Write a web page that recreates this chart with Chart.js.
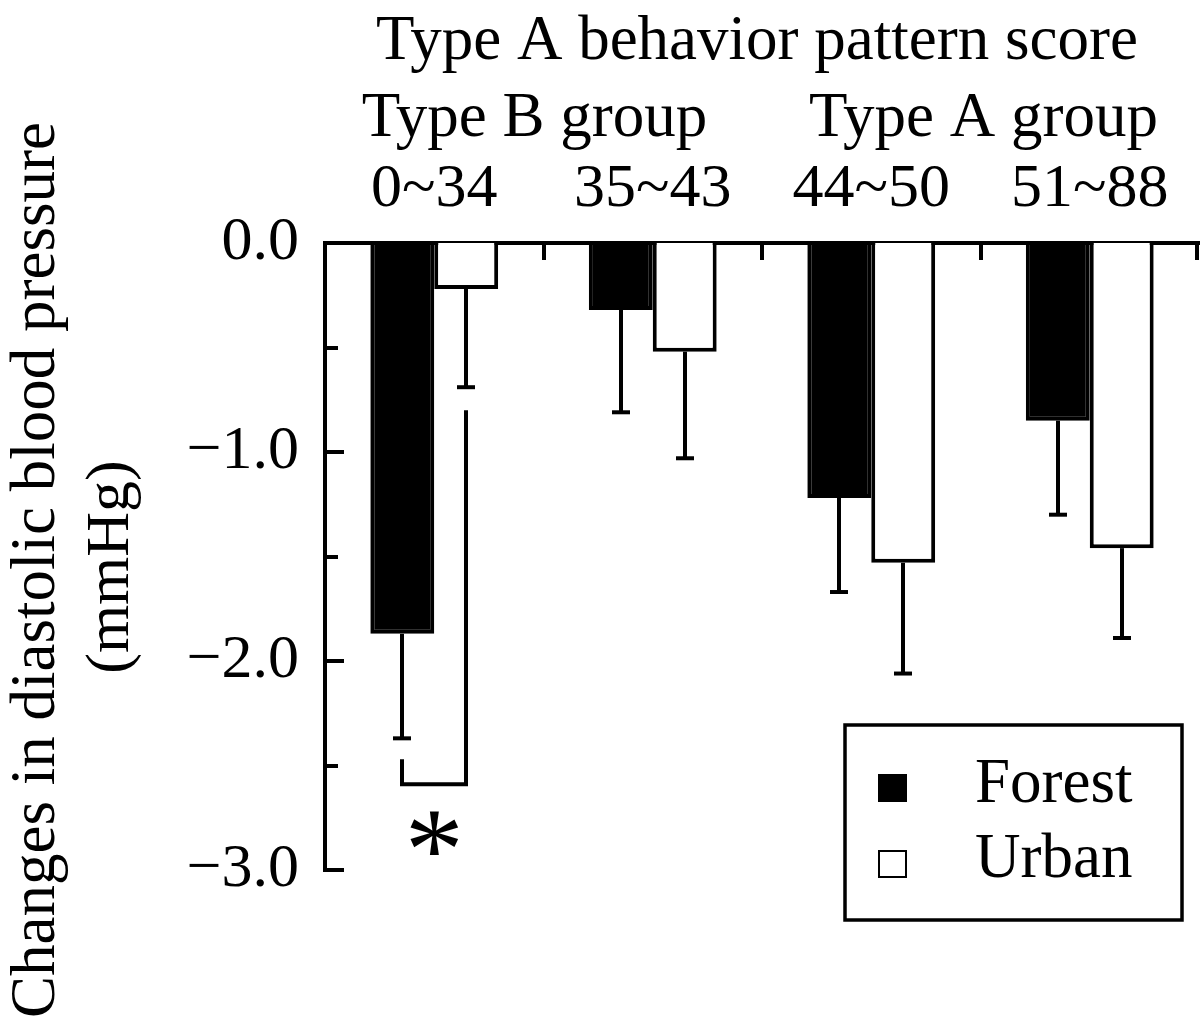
<!DOCTYPE html>
<html><head><meta charset="utf-8">
<script src="https://cdn.jsdelivr.net/npm/chart.js@4"></script>
<style>html,body{margin:0;padding:0;background:#fff;}canvas{display:block}</style>
</head><body>
<canvas id="c" width="1200" height="1017"></canvas>
<script>
// ---- data ----
const categories = ['0~34', '35~43', '44~50', '51~88'];
const seriesNames = ['Forest', 'Urban'];
const forest = [-1.87, -0.32, -1.22, -0.85];
const forestErr = [0.50, 0.49, 0.45, 0.45];
const urban = [-0.22, -0.52, -1.53, -1.46];
const urbanErr = [0.47, 0.51, 0.53, 0.43];
const yTickValues = [0, -0.5, -1, -1.5, -2, -2.5, -3];
const yTickLabels = ['0.0', '', '\u22121.0', '', '\u22122.0', '', '\u22123.0'];
const groupLabels = ['Type B group', 'Type A group'];
const groupRanges = [[0, 1], [2, 3]];
const xTitle = 'Type A behavior pattern score';
const yTitleMain = 'Changes in diastolic blood pressure';
const yTitleUnit = '(mmHg)';
// significance bracket between Forest and Urban of category 0 (values in mmHg)
const sigCategory = 0;
const sigLeftTop = -2.47;
const sigRightTop = -0.80;
const sigBottom = -2.59;
const sigStarValue = -2.83;
const sigMark = '*';

const FONT = '"Liberation Serif", "Times New Roman", serif';

function line(ctx, x1, y1, x2, y2) {
  ctx.beginPath(); ctx.moveTo(x1, y1); ctx.lineTo(x2, y2); ctx.stroke();
}

const overlay = {
  id: 'overlay',
  afterDraw(chart) {
    const ctx = chart.ctx;
    const x = chart.scales.x, y = chart.scales.y;
    const area = chart.chartArea;
    ctx.save();
    ctx.strokeStyle = '#000';
    ctx.fillStyle = '#000';
    ctx.lineWidth = 4;
    ctx.lineCap = 'butt';

    // y tick marks (inward)
    yTickValues.forEach(v => {
      if (v === 0) return;
      const py = Math.round(y.getPixelForValue(v));
      const len = Number.isInteger(v) ? 19 : 13;
      line(ctx, area.left - 2, py, area.left + len, py);
    });
    // top tick marks at category boundaries (inward)
    for (let i = 1; i <= categories.length; i++) {
      let px;
      if (i < categories.length) px = (x.getPixelForValue(i - 1) + x.getPixelForValue(i)) / 2;
      else px = area.right - 2;
      px = Math.round(px);
      line(ctx, px, area.top, px, area.top + 17);
    }

    // error bars
    const errs = [forestErr, urbanErr];
    const vals = [forest, urban];
    [0, 1].forEach(d => {
      const meta = chart.getDatasetMeta(d);
      meta.data.forEach((bar, j) => {
        const cx = Math.round(bar.x);
        const y0 = y.getPixelForValue(vals[d][j]);
        const y1 = y.getPixelForValue(vals[d][j] - errs[d][j]);
        line(ctx, cx, y0, cx, y1);
        line(ctx, cx - 9, y1, cx + 9, y1);
      });
    });

    // significance bracket
    const lx = Math.round(chart.getDatasetMeta(0).data[sigCategory].x);
    const rx = Math.round(chart.getDatasetMeta(1).data[sigCategory].x);
    const by = y.getPixelForValue(sigBottom);
    ctx.beginPath();
    ctx.moveTo(lx, y.getPixelForValue(sigLeftTop));
    ctx.lineTo(lx, by);
    ctx.lineTo(rx, by);
    ctx.lineTo(rx, y.getPixelForValue(sigRightTop));
    ctx.stroke();
    ctx.font = '118px ' + FONT;
    ctx.textAlign = 'center';
    ctx.textBaseline = 'middle';
    ctx.fillText(sigMark, x.getPixelForValue(sigCategory), y.getPixelForValue(sigStarValue) + 24);

    // titles
    ctx.font = '63px ' + FONT;
    ctx.textAlign = 'center';
    ctx.textBaseline = 'alphabetic';
    ctx.fillText(xTitle, 757, 59);
    const groupShift = [-9, 3];
    groupLabels.forEach((t, i) => {
      const [a, b] = groupRanges[i];
      const cx = (x.getPixelForValue(a) + x.getPixelForValue(b)) / 2;
      ctx.fillText(t, cx + groupShift[i], 136);
    });

    // y titles (rotated)
    ctx.save();
    ctx.translate(54, 570);
    ctx.rotate(-Math.PI / 2);
    ctx.font = '63px ' + FONT;
    ctx.fillText(yTitleMain, 0, 0);
    ctx.restore();
    ctx.save();
    ctx.translate(128, 567);
    ctx.rotate(-Math.PI / 2);
    ctx.font = '62px ' + FONT;
    ctx.fillText(yTitleUnit, 0, 0);
    ctx.restore();

    // legend
    ctx.lineWidth = 3.5;
    ctx.strokeRect(845, 725, 337, 195);
    ctx.fillRect(878, 774, 29, 28);
    ctx.lineWidth = 2;
    ctx.strokeRect(879, 851, 27, 26);
    ctx.font = '63px ' + FONT;
    ctx.textAlign = 'left';
    ctx.fillText(seriesNames[0], 975, 802, 160);
    ctx.fillText(seriesNames[1], 975, 877, 160);

    ctx.restore();
  }
};

new Chart(document.getElementById('c'), {
  type: 'bar',
  data: {
    labels: categories,
    datasets: [
      { label: seriesNames[0], data: forest, backgroundColor: '#000', borderColor: '#000', borderWidth: 4 },
      { label: seriesNames[1], data: urban, backgroundColor: '#fff', borderColor: '#000', borderWidth: 4 }
    ]
  },
  options: {
    responsive: false,
    animation: false,
    devicePixelRatio: 1,
    layout: { padding: { left: 0, right: 1, top: 0, bottom: 147 } },
    datasets: { bar: { barPercentage: 1, categoryPercentage: 0.585 } },
    plugins: { legend: { display: false }, tooltip: { enabled: false } },
    scales: {
      x: {
        position: 'top',
        offset: true,
        grid: { display: false, drawTicks: false },
        border: { display: true, color: '#000', width: 4 },
        ticks: { color: '#000', font: { family: FONT, size: 62 }, padding: 16, maxRotation: 0 },
        afterFit: s => { s.height = 243; }
      },
      y: {
        min: -3, max: 0,
        afterBuildTicks: s => { s.ticks = yTickValues.map(v => ({ value: v })); },
        grid: { display: false, drawTicks: false },
        border: { display: true, color: '#000', width: 4 },
        ticks: {
          color: '#000', font: { family: FONT, size: 62 }, padding: 26,
          callback: (v, i) => yTickLabels[i]
        },
        afterFit: s => { s.width = 325; }
      }
    }
  },
  plugins: [overlay]
});
</script>
</body></html>
